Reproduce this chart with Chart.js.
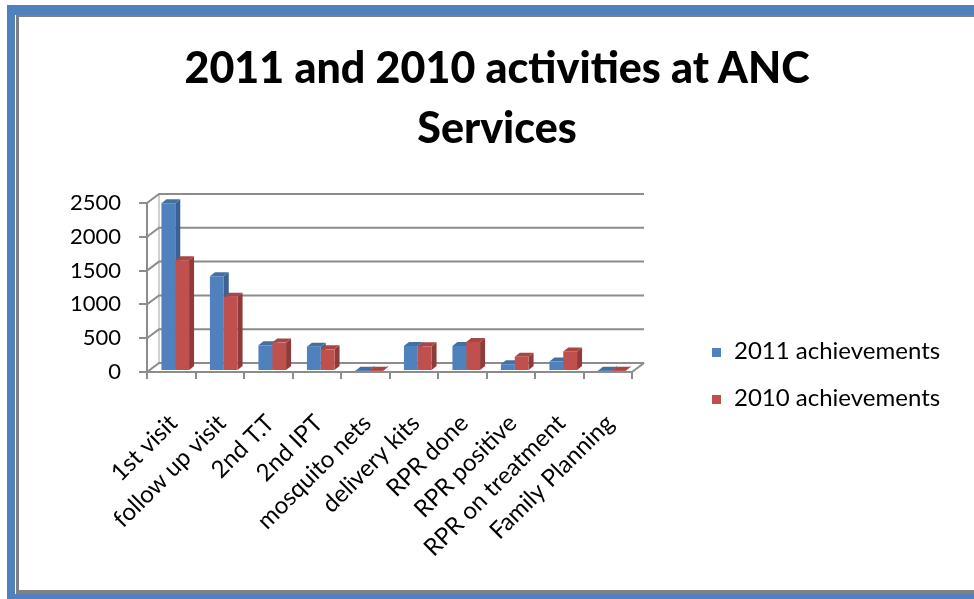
<!DOCTYPE html>
<html>
<head>
<meta charset="utf-8">
<script src="https://cdn.jsdelivr.net/npm/chart.js@4/dist/chart.umd.min.js"></script>
<style>
  html, body { margin: 0; padding: 0; background: #fff; overflow: hidden; }
  #wrap { position: relative; width: 974px; height: 599px; font-family: Lato, sans-serif; }
  #chart { position: absolute; left: 0; top: 0; }
  #frame {
    position: absolute; left: 7px; top: 5px; width: 990px; height: 579px;
    border-top: 10px solid #4f81bd; border-left: 8px solid #4f81bd; border-bottom: 5px solid #4f81bd;
    pointer-events: none;
  }
  #frame .inner {
    position: absolute; left: 1px; top: 0; right: 0; bottom: 0;
    border-top: 2px solid #808080; border-left: 3px solid #808080; border-bottom: 4px solid #808080;
  }
  #title {
    position: absolute; left: 0; width: 994px; top: 37px; text-align: center;
    font-weight: 900; font-size: 43px; line-height: 60px; color: #000;
  }
  #legend { position: absolute; left: 712px; top: 332px; }
  #legend div { height: 47px; line-height: 36px; font-size: 24px; color: #000; white-space: nowrap; }
  #legend span { display: inline-block; width: 9px; height: 9px; margin-right: 13px; vertical-align: 2px; }
</style>
</head>
<body>
<div id="wrap">
  <canvas id="chart" width="974" height="599"></canvas>
  <div id="title">2011 and 2010 activities at ANC<br>Services</div>
  <div id="legend"></div>
  <div id="frame"><div class="inner"></div></div>
</div>
<script>
// --- Data ---
const categories = ['1st visit', 'follow up visit', '2nd T.T', '2nd IPT', 'mosquito nets',
                    'delivery kits', 'RPR done', 'RPR positive', 'RPR on treatment', 'Family Planning'];
const values2011 = [2480, 1400, 380, 360, 2, 370, 370, 100, 140, 2];
const values2010 = [1640, 1100, 420, 320, 3, 365, 430, 210, 290, 2];
const seriesNames = ['2011 achievements', '2010 achievements'];
const yTicks = [0, 500, 1000, 1500, 2000, 2500];

const colors = ['#4f81bd', '#c0504d'];
const sideColors = ['#3a6194', '#8e3b39'];
const topColors = ['#44709f', '#a84643'];

// depth of the back wall and of each bar
const WALL_DX = 12, WALL_DY = -9;
const BAR_DX = 5, BAR_DY = -4;
const SHIFT_X = 4, SHIFT_Y = -1;

// --- 3D look ---
const depthPlugin = {
    id: 'depth',
    beforeDatasetsDraw(chart) {
        const ctx = chart.ctx;
        const y = chart.scales.y;
        const l = chart.chartArea.left, r = chart.chartArea.right;
        const b = chart.chartArea.bottom, t = chart.chartArea.top;

        ctx.save();
        ctx.lineWidth = 2;
        // back wall left edge
        ctx.strokeStyle = '#d0d0d0';
        ctx.beginPath();
        ctx.moveTo(l + WALL_DX, b + WALL_DY);
        ctx.lineTo(l + WALL_DX, t + WALL_DY);
        ctx.stroke();
        // gridlines on the back wall + slanted ties to the front axis
        ctx.strokeStyle = '#8c8c8c';
        yTicks.forEach(v => {
            const py = y.getPixelForValue(v);
            ctx.beginPath();
            ctx.moveTo(l, py);
            ctx.lineTo(l + WALL_DX, py + WALL_DY);
            ctx.lineTo(r + WALL_DX, py + WALL_DY);
            ctx.stroke();
        });
        // floor right edge
        ctx.beginPath();
        ctx.moveTo(r, b);
        ctx.lineTo(r + WALL_DX, b + WALL_DY);
        ctx.stroke();
        ctx.restore();

        // bar sides and tops (drawn before the fronts)
        ctx.save();
        ctx.translate(SHIFT_X, SHIFT_Y);
        chart.data.datasets.forEach((ds, di) => {
            chart.getDatasetMeta(di).data.forEach(bar => {
                const left = bar.x - bar.width / 2, right = bar.x + bar.width / 2;
                const top = bar.y, base = bar.base;
                ctx.fillStyle = sideColors[di];
                ctx.beginPath();
                ctx.moveTo(right, top);
                ctx.lineTo(right + BAR_DX, top + BAR_DY);
                ctx.lineTo(right + BAR_DX, base + BAR_DY);
                ctx.lineTo(right, base);
                ctx.closePath();
                ctx.fill();
                ctx.fillStyle = topColors[di];
                ctx.beginPath();
                ctx.moveTo(left, top);
                ctx.lineTo(left + BAR_DX, top + BAR_DY);
                ctx.lineTo(right + BAR_DX, top + BAR_DY);
                ctx.lineTo(right, top);
                ctx.closePath();
                ctx.fill();
            });
        });
        // keep the shift for the bar fronts
    },
    afterDatasetsDraw(chart) {
        chart.ctx.restore();
    }
};

// --- Chart ---
const ctx = document.getElementById('chart').getContext('2d');
new Chart(ctx, {
    type: 'bar',
    data: {
        labels: categories,
        datasets: [
            { label: seriesNames[0], data: values2011, backgroundColor: colors[0] },
            { label: seriesNames[1], data: values2010, backgroundColor: colors[1] }
        ]
    },
    options: {
        responsive: false,
        animation: false,
        categoryPercentage: 0.57,
        barPercentage: 1.0,
        layout: { padding: { left: 0, right: 342, top: 203, bottom: 0 } },
        plugins: {
            legend: { display: false },
            title: { display: false },
            tooltip: { enabled: false }
        },
        scales: {
            x: {
                offset: true,
                grid: { display: true, drawOnChartArea: false, offset: true, tickLength: 7, color: '#8c8c8c', lineWidth: 2 },
                border: { color: '#8c8c8c', width: 2 },
                ticks: {
                    color: '#000',
                    font: { family: 'Lato', size: 24 },
                    minRotation: 45, maxRotation: 45, padding: 30, labelOffset: 2
                },
                afterFit(scale) { scale.height = 227; }
            },
            y: {
                min: 0, max: 2500,
                afterBuildTicks(scale) { scale.ticks = yTicks.map(v => ({ value: v })); },
                grid: { display: true, drawOnChartArea: false, tickLength: 8, color: '#8c8c8c', lineWidth: 2 },
                border: { color: '#8c8c8c', width: 2 },
                ticks: {
                    color: '#000', font: { family: 'Lato', size: 22 }, padding: 18,
                    callback: v => String(v)
                },
                afterFit(scale) { scale.width = 147; }
            }
        }
    },
    plugins: [depthPlugin]
});

// --- Legend ---
const legend = document.getElementById('legend');
seriesNames.forEach((name, i) => {
    const row = document.createElement('div');
    row.innerHTML = `<span style="background:${colors[i]}"></span>${name}`;
    legend.appendChild(row);
});
</script>
</body>
</html>
